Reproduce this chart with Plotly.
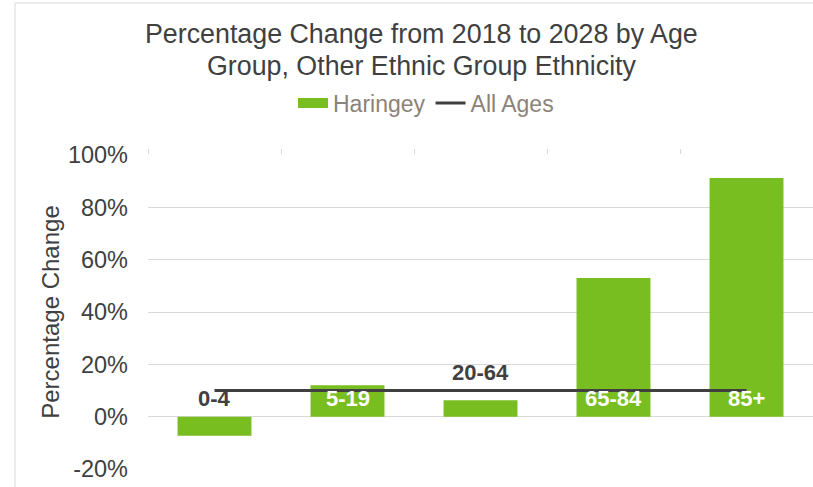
import plotly.graph_objects as go

categories = ["0-4", "5-19", "20-64", "65-84", "85+"]
haringey = [-0.073, 0.12, 0.063, 0.53, 0.912]
all_ages = [0.10, 0.10, 0.10, 0.10, 0.10]
label_inside = [False, True, False, True, True]
y_ticks = [-0.2, 0, 0.2, 0.4, 0.6, 0.8, 1.0]
y_tick_labels = ["-20%", "0%", "20%", "40%", "60%", "80%", "100%"]
title_lines = ["Percentage Change from 2018 to 2028 by Age",
               "Group, Other Ethnic Group Ethnicity"]

GREEN = "#78BE20"
DARK = "#404040"
LEGEND_GRAY = "#8C8279"
FONT = "Liberation Sans, Arial, sans-serif"

x_idx = list(range(len(categories)))

fig = go.Figure()
fig.add_trace(go.Bar(
    x=x_idx, y=haringey, name="Haringey", width=0.556,
    marker=dict(color=GREEN, line=dict(width=0)),
    hoverinfo="skip", showlegend=False,
))
# legend proxy for the bar series (wide rectangle swatch)
fig.add_trace(go.Scatter(
    x=[None], y=[None], name="Haringey", mode="lines",
    line=dict(color=GREEN, width=14), hoverinfo="skip",
))
fig.add_trace(go.Scatter(
    x=x_idx, y=all_ages, name="All Ages", mode="lines",
    line=dict(color=DARK, width=3),
    hoverinfo="skip",
))

for i, (cat, v, inside) in enumerate(zip(categories, haringey, label_inside)):
    outside_pos = (not inside) and v > 0
    fig.add_annotation(
        x=i, y=v if outside_pos else 0, text=f"<b>{cat}</b>",
        showarrow=False, yanchor="bottom", xanchor="center",
        yshift=13 if outside_pos else 4,
        font=dict(family=FONT, size=22, color="white" if inside else DARK),
    )

for line, ypos in zip(title_lines, [1.3854, 1.2834]):
    fig.add_annotation(
        text=line, xref="paper", yref="paper", x=0.412, y=ypos,
        xanchor="center", yanchor="middle", showarrow=False,
        font=dict(family=FONT, size=26.8, color=DARK),
    )

fig.add_shape(type="rect", xref="paper", yref="paper",
              x0=-0.2, x1=1.05, y0=-0.2, y1=1.484,
              line=dict(color="#d9d9d9", width=1), layer="below")

fig.update_layout(
    width=813, height=487,
    margin=dict(l=148, r=0, t=155, b=18),
    paper_bgcolor="white", plot_bgcolor="white",
    font=dict(family=FONT, color=DARK),
    legend=dict(
        orientation="h", x=0.524, xref="container", xanchor="center",
        y=0.7885, yref="container", yanchor="middle",
        font=dict(family=FONT, size=23, color=LEGEND_GRAY),
        itemwidth=30, bgcolor="rgba(0,0,0,0)",
    ),
    showlegend=True,
    xaxis=dict(
        range=[-0.5, 4.5], side="top",
        tickvals=[-0.5, 0.5, 1.5, 2.5, 3.5, 4.5],
        ticks="outside", ticklen=5, tickcolor="#d9d9d9", tickwidth=1,
        showticklabels=False, showgrid=False, zeroline=False, showline=False,
        fixedrange=True,
    ),
    yaxis=dict(
        range=[-0.2, 1.0], tickvals=y_ticks, ticktext=y_tick_labels,
        showgrid=True, gridcolor="#d9d9d9", gridwidth=1.3,
        zeroline=False, showline=False, ticks="",
        tickfont=dict(family=FONT, size=23.5, color=DARK),
        ticklabelstandoff=19,
        title=dict(text="Percentage Change", standoff=1,
                   font=dict(family=FONT, size=24, color=DARK)),
        fixedrange=True,
    ),
)

fig.write_html("out.html", config={"displayModeBar": False},
               post_script="document.body.style.margin='0';")
